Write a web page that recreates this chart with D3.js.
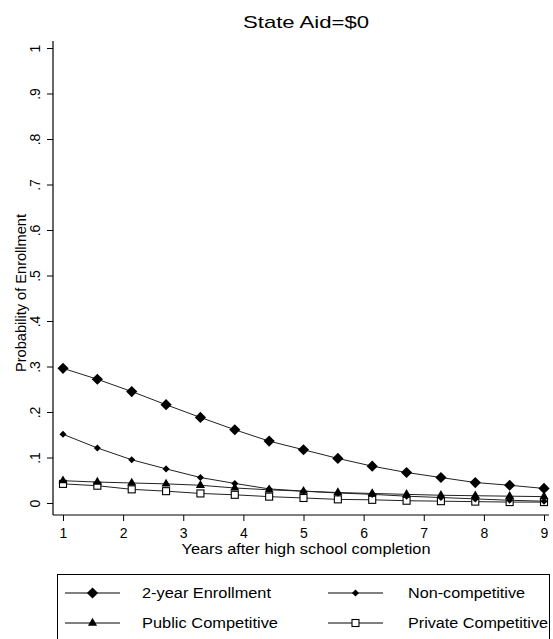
<!DOCTYPE html>
<html>
<head>
<meta charset="utf-8">
<script src="https://cdn.jsdelivr.net/npm/d3@7"></script>
<style>
  html, body { margin: 0; padding: 0; background: #fff; }
  svg { display: block; }
  text { font-family: "Liberation Sans", Arial, Helvetica, sans-serif; fill: #000; }
</style>
</head>
<body>
<svg id="chart" width="553" height="639"></svg>
<script>
// ---- data ----
const years = d3.range(15).map(i => 1 + i * 8 / 14);
const twoYear     = [0.296, 0.272, 0.245, 0.216, 0.188, 0.161, 0.136, 0.117, 0.098, 0.081, 0.067, 0.056, 0.045, 0.039, 0.032];
const nonComp     = [0.151, 0.121, 0.095, 0.075, 0.056, 0.043, 0.031, 0.026, 0.022, 0.019, 0.015, 0.012, 0.009, 0.006, 0.004];
const publicComp  = [0.049, 0.046, 0.044, 0.042, 0.039, 0.033, 0.029, 0.026, 0.023, 0.021, 0.019, 0.017, 0.016, 0.015, 0.014];
const privateComp = [0.042, 0.038, 0.030, 0.026, 0.021, 0.018, 0.014, 0.011, 0.008, 0.007, 0.005, 0.004, 0.003, 0.002, 0.002];
const seriesNames = ["2-year Enrollment", "Non-competitive", "Public Competitive", "Private Competitive"];
const xTicks = [1, 2, 3, 4, 5, 6, 7, 8, 9];
const yTicks = [0, 0.1, 0.2, 0.3, 0.4, 0.5, 0.6, 0.7, 0.8, 0.9, 1];
const yTickLabels = ["0", ".1", ".2", ".3", ".4", ".5", ".6", ".7", ".8", ".9", "1"];
const title = "State Aid=$0";
const xTitle = "Years after high school completion";
const yTitle = "Probability of Enrollment";

const seriesData = [twoYear, nonComp, publicComp, privateComp];
const markers = ["bigDiamond", "smallDiamond", "triangle", "square"];

const svg = d3.select("#chart");
const x = d3.scaleLinear().domain([1, 9]).range([63, 544]);
const y = d3.scaleLinear().domain([0, 1]).range([503, 48]);

// title
svg.append("text").attr("x", 306).attr("y", 28).attr("text-anchor", "middle")
  .attr("font-size", 17).attr("textLength", 126).attr("lengthAdjust", "spacingAndGlyphs").text(title);

// axes frame lines
const axisColor = "#000";
svg.append("line").attr("x1", 53).attr("x2", 53).attr("y1", 41).attr("y2", 515)
  .attr("stroke", axisColor).attr("stroke-width", 1.2);
svg.append("line").attr("x1", 53).attr("x2", 549).attr("y1", 515).attr("y2", 515)
  .attr("stroke", axisColor).attr("stroke-width", 1.2);

// y axis ticks (D3 axis)
const yAxis = d3.axisLeft(y).tickValues(yTicks).tickSize(6).tickFormat((d, i) => yTickLabels[i]);
const gy = svg.append("g").attr("transform", "translate(53,0)").call(yAxis);
gy.select(".domain").remove();
gy.selectAll(".tick line").attr("stroke", axisColor);
gy.selectAll(".tick text")
  .attr("font-size", 14).attr("x", 0).attr("dy", 0)
  .attr("text-anchor", "middle")
  .attr("transform", "translate(-13,0) rotate(-90)")
  .attr("y", 0);

// x axis ticks
const xAxis = d3.axisBottom(x).tickValues(xTicks).tickSize(6).tickFormat(d3.format("d"));
const gx = svg.append("g").attr("transform", "translate(0,515)").call(xAxis);
gx.select(".domain").remove();
gx.selectAll(".tick line").attr("stroke", axisColor);
gx.selectAll(".tick text").attr("font-size", 14).attr("y", 13).attr("dy", "0.71em");

// axis titles
svg.append("text").attr("x", 306).attr("y", 554).attr("text-anchor", "middle")
  .attr("font-size", 14).attr("textLength", 249).attr("lengthAdjust", "spacingAndGlyphs").text(xTitle);
svg.append("text").attr("transform", "translate(26,293) rotate(-90)").attr("text-anchor", "middle")
  .attr("font-size", 14).attr("textLength", 158).attr("lengthAdjust", "spacingAndGlyphs").text(yTitle);

// marker drawing
function drawMarker(g, type, cx, cy) {
  if (type === "bigDiamond") {
    g.append("path").attr("d", d3.symbol().type(d3.symbolDiamond2).size(80)())
      .attr("transform", `translate(${cx},${cy})`).attr("fill", "#000");
  } else if (type === "smallDiamond") {
    g.append("path").attr("d", d3.symbol().type(d3.symbolDiamond2).size(32)())
      .attr("transform", `translate(${cx},${cy})`).attr("fill", "#000");
  } else if (type === "triangle") {
    g.append("path").attr("d", d3.symbol().type(d3.symbolTriangle).size(36)())
      .attr("transform", `translate(${cx},${cy})`).attr("fill", "#000");
  } else {
    g.append("rect").attr("x", cx - 3.5).attr("y", cy - 3.5).attr("width", 7).attr("height", 7)
      .attr("fill", "#fff").attr("stroke", "#000").attr("stroke-width", 1.1);
  }
}

const line = d3.line().x(d => x(d[0])).y(d => y(d[1]));
const plot = svg.append("g");
// draw in reverse order so 2-year is on top
[3, 2, 1, 0].forEach(si => {
  const pts = years.map((yr, i) => [yr, seriesData[si][i]]);
  plot.append("path").attr("d", line(pts)).attr("fill", "none")
    .attr("stroke", "#222").attr("stroke-width", 1);
  const gm = plot.append("g");
  pts.forEach(p => drawMarker(gm, markers[si], x(p[0]), y(p[1])));
});

// legend
const lg = svg.append("g");
lg.append("rect").attr("x", 57.5).attr("y", 574.5).attr("width", 492).attr("height", 70)
  .attr("fill", "none").attr("stroke", "#000").attr("stroke-width", 1);
const legendPos = [
  {lx: 65, ly: 593, tx: 142, tl: 129},
  {lx: 328, ly: 593, tx: 408, tl: 117},
  {lx: 65, ly: 623, tx: 142, tl: 136},
  {lx: 328, ly: 623, tx: 408, tl: 140}
];
seriesNames.forEach((name, i) => {
  const p = legendPos[i];
  lg.append("line").attr("x1", p.lx).attr("x2", p.lx + 55).attr("y1", p.ly).attr("y2", p.ly)
    .attr("stroke", "#000").attr("stroke-width", 1);
  drawMarker(lg, markers[i], p.lx + 27.5, p.ly);
  lg.append("text").attr("x", p.tx).attr("y", p.ly + 5).attr("font-size", 14)
    .attr("textLength", p.tl).attr("lengthAdjust", "spacingAndGlyphs").text(name);
});
</script>
</body>
</html>
